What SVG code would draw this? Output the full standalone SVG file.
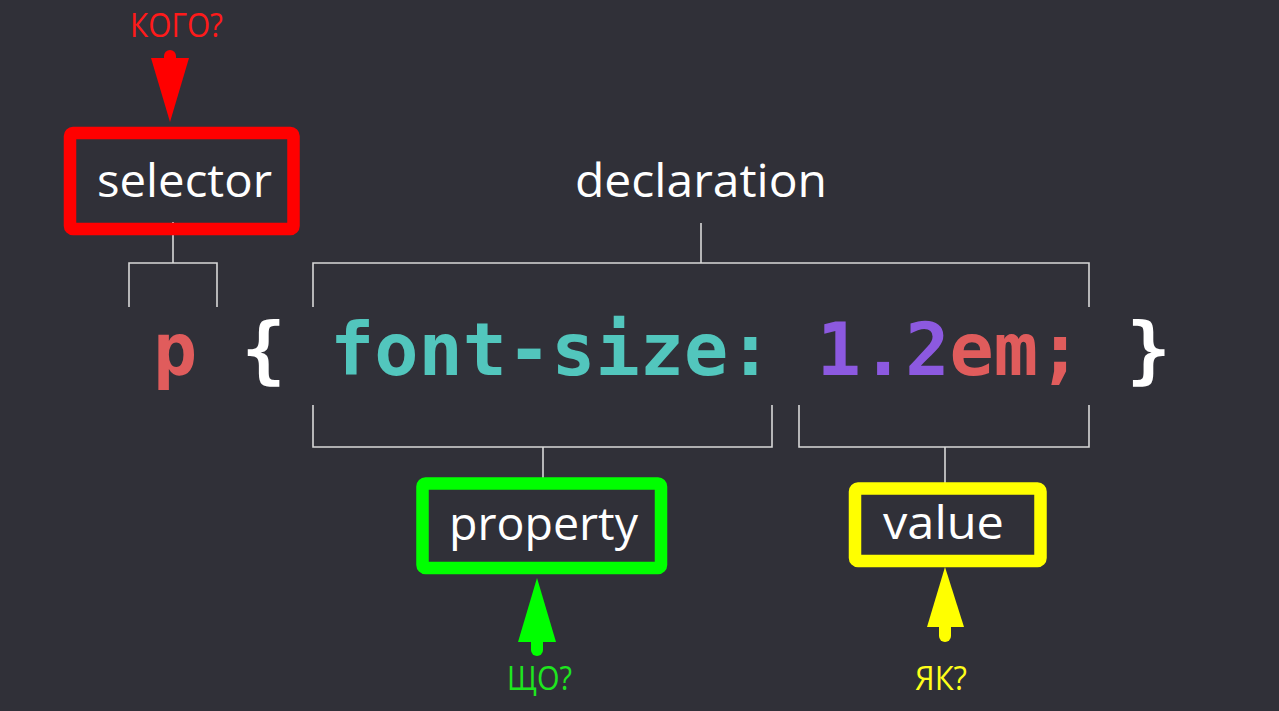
<svg xmlns="http://www.w3.org/2000/svg" width="1279" height="711" viewBox="0 0 1279 711">
<style>
.bg{fill:#303038}
.lbl{font-family:"Open Sans","Noto Sans",sans-serif;font-size:46px;fill:#ffffff}
.q{font-family:"Open Sans","Noto Sans",sans-serif;font-size:32px}
.code{font-family:"DejaVu Sans Mono","Liberation Mono",monospace;font-weight:bold;font-size:73.5px}
.box{fill:none;stroke-width:12.5;stroke-linejoin:round}
.br{fill:none;stroke:#d8d8d8;stroke-width:1.6}
.stem{stroke-width:12;stroke-linecap:round}
</style>
<rect class="bg" x="0" y="0" width="1279" height="711"/>

<g id="connectors">
  <path class="br" d="M173,222 V263 M129,307 V263 H217 V307"/>
  <path class="br" d="M701,223 V263 M313,307 V263 H1089 V307"/>
  <path class="br" d="M313,405 V447 H772 V405 M543,447 V478"/>
  <path class="br" d="M799,405 V447 H1089 V405 M945,447 V483"/>
</g>

<g id="code">
  <text class="code" x="153" y="375" xml:space="preserve"><tspan fill="#e05c5c">p</tspan><tspan fill="#ffffff"> { </tspan><tspan fill="#52c6bd">font-size: </tspan><tspan fill="#8c59e0">1.2</tspan><tspan fill="#e05c5c">em;</tspan><tspan fill="#ffffff"> }</tspan></text>
</g>

<g id="selector">
  <rect class="box" x="70" y="133" width="223.5" height="96" rx="3" stroke="#ff0000"/>
  <text class="lbl" x="97" y="197" textLength="175" lengthAdjust="spacingAndGlyphs">selector</text>
</g>

<g id="declaration">
  <text class="lbl" x="575" y="197" textLength="252" lengthAdjust="spacingAndGlyphs">declaration</text>
</g>

<g id="property">
  <rect class="box" x="422.5" y="483.5" width="238.5" height="84.5" rx="3" stroke="#00ff00"/>
  <text class="lbl" x="449" y="540" textLength="189" lengthAdjust="spacingAndGlyphs">property</text>
</g>

<g id="value">
  <rect class="box" x="855" y="488.5" width="185.5" height="72.5" rx="3" stroke="#ffff00"/>
  <text class="lbl" x="883" y="539" textLength="121" lengthAdjust="spacingAndGlyphs">value</text>
</g>

<g id="q-who">
  <text class="q" x="130" y="37" fill="#ff1a1a" textLength="93" lengthAdjust="spacingAndGlyphs">КОГО?</text>
  <line class="stem" x1="170" y1="56" x2="170" y2="62" stroke="#ff0000"/>
  <polygon points="151,58 189,58 170,122" fill="#ff0000"/>
</g>

<g id="q-what">
  <line class="stem" x1="537" y1="636" x2="537" y2="650" stroke="#00ff00"/>
  <polygon points="537,578 518,642 556,642" fill="#00ff00"/>
  <text class="q" x="507" y="690" fill="#1ee61e" textLength="65" lengthAdjust="spacingAndGlyphs">ЩО?</text>
</g>

<g id="q-how">
  <line class="stem" x1="945" y1="622" x2="945" y2="636" stroke="#ffff00"/>
  <polygon points="945,567 927,627 964,627" fill="#ffff00"/>
  <text class="q" x="915" y="690" fill="#ffff1a" textLength="52" lengthAdjust="spacingAndGlyphs">ЯК?</text>
</g>
</svg>
